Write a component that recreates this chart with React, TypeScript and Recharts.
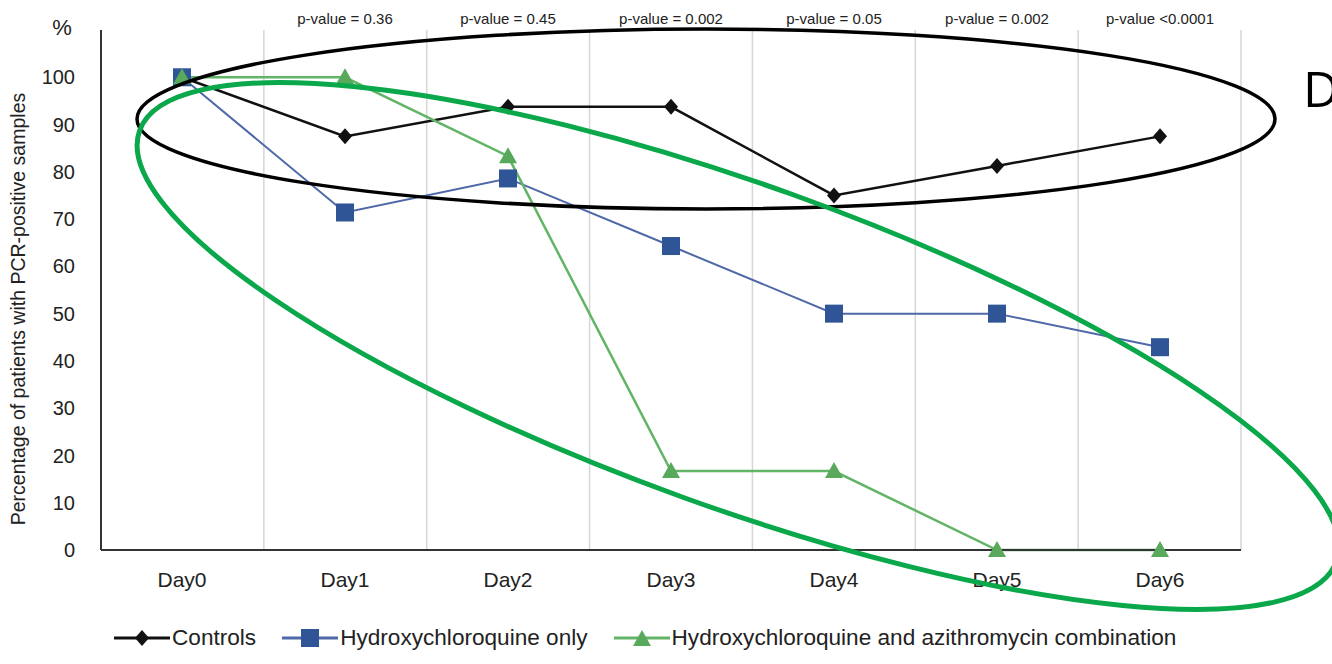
import React from "react"
import { LineChart, Line, XAxis, YAxis, CartesianGrid, Legend, Label } from "recharts"

const days = ["Day0", "Day1", "Day2", "Day3", "Day4", "Day5", "Day6"]
const controls = [100, 87.5, 93.75, 93.75, 75, 81.25, 87.5]
const hcqOnly = [100, 71.4, 78.6, 64.3, 50, 50, 42.9]
const hcqAzithro = [100, 100, 83.3, 16.7, 16.7, 0, 0]
const pValues = ["", "p-value = 0.36", "p-value = 0.45", "p-value = 0.002", "p-value = 0.05", "p-value = 0.002", "p-value <0.0001"]
const yTicks = [0, 10, 20, 30, 40, 50, 60, 70, 80, 90, 100]

const data = days.map((day, i) => ({
  day,
  controls: controls[i],
  hcqOnly: hcqOnly[i],
  hcqAzithro: hcqAzithro[i],
}))

const FONT = "'Liberation Sans', Arial, sans-serif"
const BLACK = "#111111"
const BLUE_LINE = "#4f68a8"
const BLUE_MARK = "#2f5597"
const GREEN_LINE = "#62b466"
const GREEN_MARK = "#58a95c"

// half a category band, so each day sits in the middle of its column
const BAND_PAD = 81

const diamond = (cx: number, cy: number) => `M${cx},${cy - 8}L${cx + 7},${cy}L${cx},${cy + 8}L${cx - 7},${cy}Z`
const triangle = (cx: number, cy: number) => `M${cx},${cy - 9}L${cx + 9},${cy + 7}L${cx - 9},${cy + 7}Z`

const DiamondDot = (props: any) => {
  const { cx, cy, index } = props
  return <path key={`d-${index}`} d={diamond(cx, cy)} fill={BLACK} />
}

const SquareDot = (props: any) => {
  const { cx, cy, index } = props
  return <rect key={`s-${index}`} x={cx - 9} y={cy - 9} width={18} height={18} fill={BLUE_MARK} />
}

const TriangleDot = (props: any) => {
  const { cx, cy, index } = props
  return <path key={`t-${index}`} d={triangle(cx, cy)} fill={GREEN_MARK} />
}

const legendItems = [
  { label: "Controls", color: BLACK, marker: "diamond" },
  { label: "Hydroxychloroquine only", color: BLUE_LINE, marker: "square" },
  { label: "Hydroxychloroquine and azithromycin combination", color: GREEN_LINE, marker: "triangle" },
]

function LegendContent() {
  return (
    <div style={{ display: "flex", alignItems: "center", height: 30, fontFamily: FONT, fontSize: 22.6, color: "#222" }}>
      {legendItems.map((item) => (
        <div key={item.label} style={{ display: "flex", alignItems: "center", marginRight: 26 }}>
          <svg width={56} height={20} style={{ marginRight: 2 }}>
            <line x1={0} y1={10} x2={56} y2={10} stroke={item.color} strokeWidth={3} />
            {item.marker === "diamond" && <path d={diamond(28, 10)} fill={BLACK} />}
            {item.marker === "square" && <rect x={19} y={1} width={18} height={18} fill={BLUE_MARK} />}
            {item.marker === "triangle" && <path d={triangle(28, 11)} fill={GREEN_MARK} />}
          </svg>
          <span>{item.label}</span>
        </div>
      ))}
    </div>
  )
}

// gridlines sit on the category boundaries, not on the ticks
const boundaryLines = ({ offset }: any) =>
  days.map((_, i) => offset.left + ((i + 1) * offset.width) / days.length)

export default function App() {
  return (
    <div style={{ position: "absolute", left: 0, top: 0, width: 1332, height: 664, background: "#fff", fontFamily: FONT }}>
      <LineChart width={1332} height={664} data={data} margin={{ top: 0, right: 91, bottom: 11, left: 0 }}>
        <CartesianGrid horizontal={false} stroke="#d6d6d6" strokeWidth={1.5} verticalCoordinatesGenerator={boundaryLines} />
        <XAxis
          xAxisId="p"
          orientation="top"
          dataKey="day"
          height={30}
          padding={{ left: BAND_PAD, right: BAND_PAD }}
          axisLine={false}
          tickLine={false}
          tickSize={0}
          tickMargin={6}
          interval={0}
          tickFormatter={(_v: string, i: number) => pValues[i]}
          tick={{ fill: "#222", fontSize: 15, fontFamily: FONT }}
        />
        <XAxis
          xAxisId="d"
          dataKey="day"
          height={73}
          padding={{ left: BAND_PAD, right: BAND_PAD }}
          axisLine={{ stroke: "#333", strokeWidth: 2 }}
          tickLine={false}
          tickSize={0}
          tickMargin={22}
          interval={0}
          tick={{ fill: "#222", fontSize: 21, fontFamily: FONT }}
        />
        <YAxis
          width={101}
          domain={[0, 110]}
          ticks={yTicks}
          axisLine={{ stroke: "#333", strokeWidth: 2 }}
          tickLine={false}
          tickSize={0}
          tickMargin={26}
          tick={{ fill: "#222", fontSize: 20, fontFamily: FONT }}
        >
          <Label
            content={({ viewBox }: any) => {
              const cy = viewBox.y + viewBox.height / 2 + 19
              return (
                <text x={18} y={cy} transform={`rotate(-90, 18, ${cy})`} textAnchor="middle" dominantBaseline="central" fontSize={19.5} fill="#222" fontFamily={FONT}>
                  Percentage of patients with PCR-positive samples
                </text>
              )
            }}
          />
        </YAxis>
        <Legend verticalAlign="bottom" align="left" wrapperStyle={{ paddingLeft: 114 }} content={<LegendContent />} />
        <Line xAxisId="d" type="linear" dataKey="controls" name="Controls" stroke={BLACK} strokeWidth={2.5} dot={DiamondDot} isAnimationActive={false} />
        <Line xAxisId="d" type="linear" dataKey="hcqOnly" name="Hydroxychloroquine only" stroke={BLUE_LINE} strokeWidth={2} dot={SquareDot} isAnimationActive={false} />
        <Line xAxisId="d" type="linear" dataKey="hcqAzithro" name="Hydroxychloroquine and azithromycin combination" stroke={GREEN_LINE} strokeWidth={2.5} dot={TriangleDot} isAnimationActive={false} />
      </LineChart>
      <svg width={1332} height={664} style={{ position: "absolute", left: 0, top: 0, pointerEvents: "none" }}>
        <text x={62} y={35} textAnchor="middle" fontSize={22} fill="#222" fontFamily={FONT}>%</text>
        <ellipse cx={706} cy={119} rx={569} ry={90} fill="none" stroke="#000" strokeWidth={3.5} />
        <ellipse cx={738} cy={346} rx={636} ry={161} transform="rotate(19.8 738 346)" fill="none" stroke="#0aa84a" strokeWidth={5} />
        <text x={1303} y={107} fontSize={50} fill="#000" fontFamily="'Open Sans', sans-serif">D</text>
      </svg>
    </div>
  )
}
